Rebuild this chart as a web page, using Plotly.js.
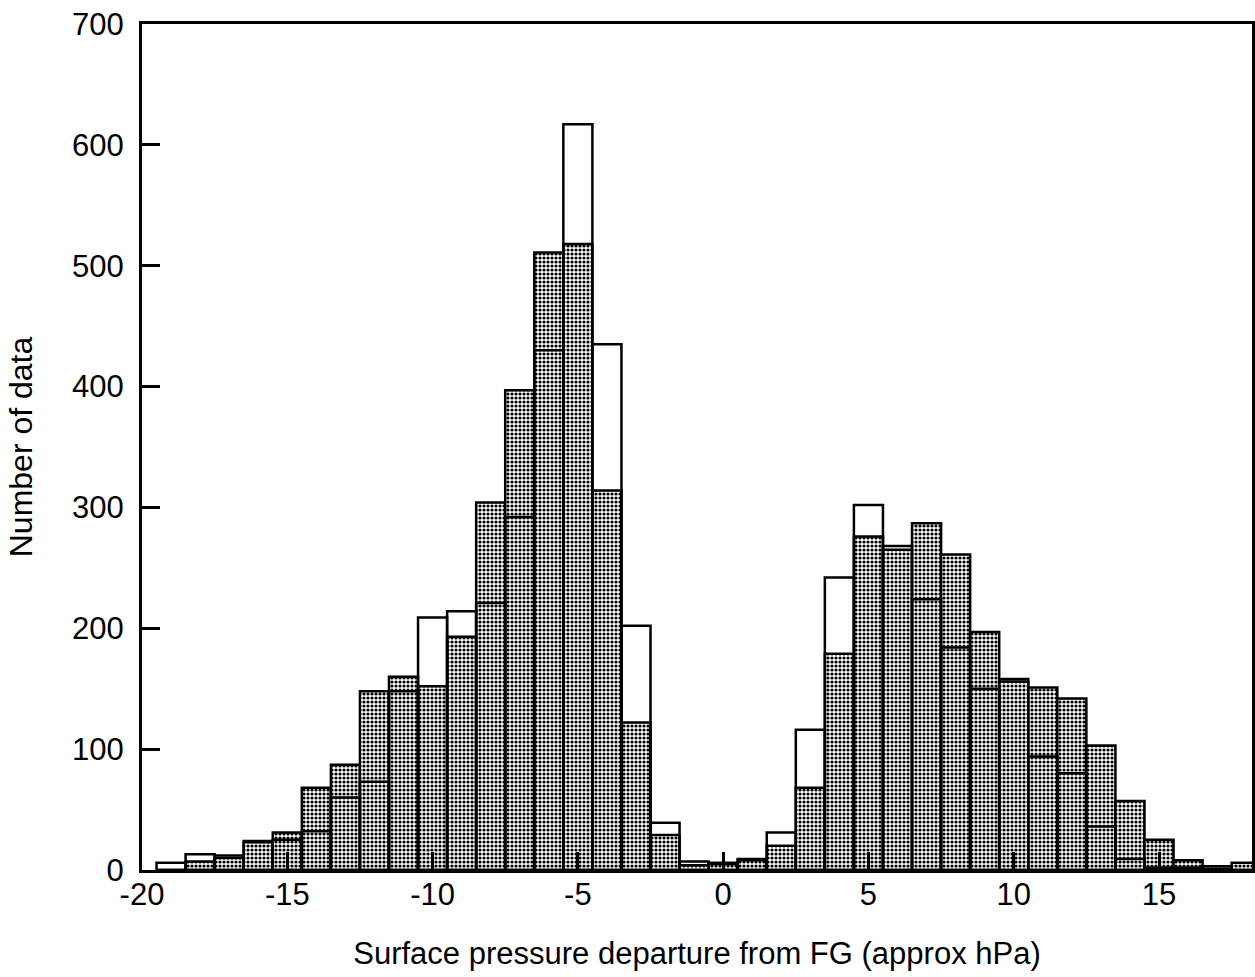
<!DOCTYPE html>
<html>
<head>
<meta charset="utf-8">
<script src="https://cdn.plot.ly/plotly-3.0.1.min.js"></script>
<style>
  html, body { margin: 0; padding: 0; background: #fff; }
  #chart { width: 1255px; height: 977px; }
</style>
</head>
<body>
<div id="chart"></div>
<script>
// Bin centres (approx hPa), bin width 1
const binCenters = [-19,-18,-17,-16,-15,-14,-13,-12,-11,-10,-9,-8,-7,-6,-5,-4,-3,-2,-1,0,
                    1,2,3,4,5,6,7,8,9,10,11,12,13,14,15,16,17,18];
// Shaded (stippled) histogram
const shadedCounts = [0,7,10,24,31,68,87,148,160,152,193,304,397,511,518,314,122,29,4,5,
                      8,20,68,179,276,265,287,261,197,158,151,142,103,57,25,8,3,6];
// Open (white, outline only) histogram
const openCounts = [6,13,12,23,25,32,60,73,148,209,214,221,292,430,617,435,202,39,7,6,
                    9,31,116,242,302,268,224,184,150,156,94,80,36,9,2,2,1,0];

const xTickVals = [-20,-15,-10,-5,0,5,10,15];
const xTickText = ['-20','-15','-10','-5','0','5','10','15'];
const yTickVals = [0,100,200,300,400,500,600,700];

const FONT = 'Liberation Sans, Arial, Helvetica, sans-serif';

const traces = [
  {
    type: 'bar',
    x: binCenters,
    y: shadedCounts,
    width: 1,
    marker: {
      color: '#a0a0a0',
      pattern: { shape: '.', fgcolor: '#000000', bgcolor: '#ffffff', size: 4, solidity: 0.5 },
      line: { color: '#000', width: 2.5 }
    },
    hoverinfo: 'x+y',
    showlegend: false
  },
  {
    type: 'bar',
    x: binCenters,
    y: openCounts,
    width: 1,
    marker: {
      color: 'rgba(0,0,0,0)',
      line: { color: '#000', width: 2.5 }
    },
    hoverinfo: 'x+y',
    showlegend: false
  }
];

const layout = {
  width: 1255,
  height: 977,
  margin: { l: 142, r: 3, t: 24, b: 107 },
  paper_bgcolor: '#fff',
  plot_bgcolor: '#fff',
  barmode: 'overlay',
  showlegend: false,
  font: { family: FONT, size: 31, color: '#000' },
  xaxis: {
    range: [-20, 18.2],
    tickvals: xTickVals,
    ticktext: xTickText,
    ticks: 'inside',
    ticklen: 18,
    tickwidth: 3,
    tickcolor: '#000',
    showline: true,
    linecolor: '#000',
    linewidth: 3,
    mirror: true,
    showgrid: false,
    zeroline: false,
    ticklabelstandoff: -5,
    tickfont: { family: FONT, size: 31, color: '#000' },
    title: { text: 'Surface pressure departure from FG (approx hPa)', font: { family: FONT, size: 31, color: '#000' }, standoff: 32 },
    automargin: false
  },
  yaxis: {
    range: [0, 700],
    tickvals: yTickVals,
    ticks: 'inside',
    ticklen: 18,
    tickwidth: 3,
    tickcolor: '#000',
    showline: true,
    linecolor: '#000',
    linewidth: 3,
    mirror: true,
    showgrid: false,
    zeroline: false,
    ticklabelstandoff: 9,
    tickfont: { family: FONT, size: 31, color: '#000' },
    title: { text: 'Number of data', font: { family: FONT, size: 32, color: '#000' }, standoff: 30 },
    automargin: false
  }
};

Plotly.newPlot('chart', traces, layout, { displayModeBar: false, staticPlot: true });
</script>
</body>
</html>
